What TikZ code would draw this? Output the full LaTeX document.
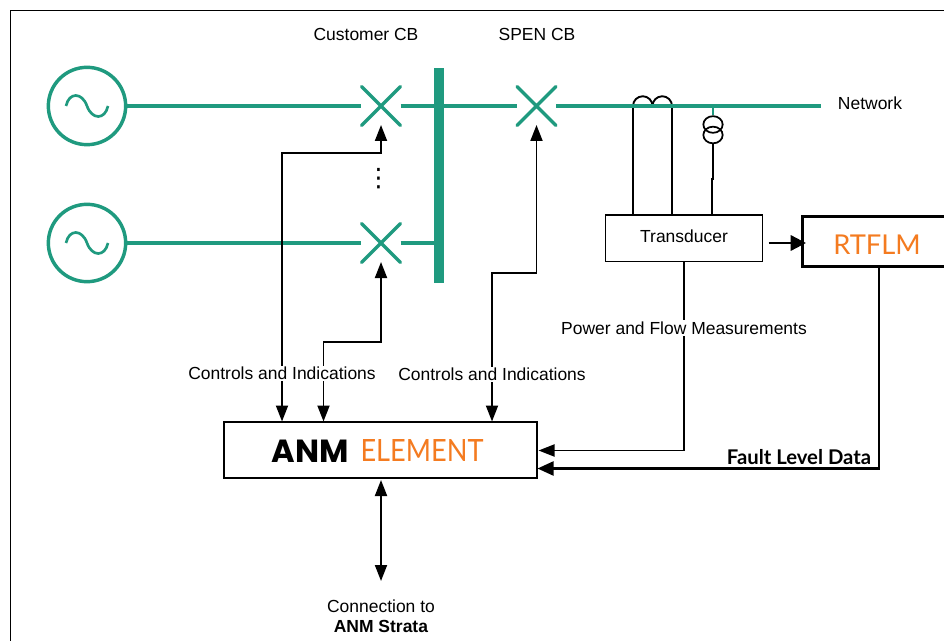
\documentclass[tikz,border=0pt]{standalone}
\usepackage{fontspec}
\setmainfont{Liberation Sans}
\newfontfamily\logofont{Poppins}
\newfontfamily\rtfont{Lato}
\newfontfamily\elemfont[FakeStretch=0.885]{Lato}
\newfontfamily\dotfont{DejaVu Sans}
\usetikzlibrary{arrows.meta,calc,shapes.geometric}
\definecolor{busgreen}{HTML}{1F9A7F}
\definecolor{logoorange}{HTML}{F47B20}
\tikzset{
  x=0.75pt,y=-0.75pt,
  bus/.style={draw=busgreen,line width=2.8pt},
  gen/.style={circle,draw=busgreen,line width=2.6pt,minimum size=58pt,inner sep=0pt},
  brk/.style={minimum size=29pt,inner sep=0pt},
  box/.style={draw=black,line width=1.4pt,fill=white,inner sep=0pt,outer sep=0pt},
  wire/.style={draw=black,line width=1.4pt},
  thickwire/.style={draw=black,line width=1.7pt},
  arrow/.style={wire,-{Triangle[length=12pt,width=9pt]}},
  biarrow/.style={wire,{Triangle[length=12pt,width=9pt]}-{Triangle[length=12pt,width=9pt]}},
  lab/.style={font=\fontsize{13.1}{15}\selectfont,inner sep=0pt,align=center},
  gapped/.style={lab,fill=white,inner ysep=1pt},
  vt/.style={ellipse,draw=black,line width=1.3pt,minimum width=14.5pt,minimum height=12.5pt,inner sep=0pt},
}
\newcommand{\sinewave}[1]{\draw[busgreen,line width=2pt] ($(#1)+(-21,0)$) .. controls +(3,-14) and +(-5,-14) .. ($(#1)+(0,0)$) .. controls +(5,14) and +(-3,14) .. ($(#1)+(21,0)$);}
\begin{document}
\begin{tikzpicture}
\useasboundingbox (0,0) rectangle (944,641);
\fill[white] (0,0) rectangle (944,641);
\coordinate (frameA) at (10,641);
\coordinate (frameB) at (10,10.5);
\coordinate (frameC) at (944,10.5);
\draw[black,line width=0.7pt] (frameA) -- (frameB) -- (frameC);

% boxes
\node[box,anchor=north west,line width=1.1pt,minimum width=117.75pt,minimum height=35pt] (tr) at (605.5,215) {};
\node[lab] (trt) at (684,236) {Transducer};
\node[box,line width=1.9pt,anchor=north west,minimum width=127pt,minimum height=37.5pt] (rt) at (802.5,216.5) {};
\node[font=\rtfont\fontsize{20.5}{24}\selectfont,text=logoorange,inner sep=0pt] (rtt) at (877,245) {RTFLM};
\node[box,anchor=north west,minimum width=235pt,minimum height=42pt] (anm) at (224,422) {};
\node[font=\logofont\bfseries\fontsize{24}{26}\selectfont,text=black,inner sep=0pt] (anmt) at (310,451) {ANM};
\node[font=\elemfont\fontsize{23}{26}\selectfont,text=logoorange,inner sep=0pt] (elem) at (422,451) {ELEMENT};

% CT and VT
\coordinate (ct1) at (633,106);
\coordinate (ctm) at (652.5,106);
\coordinate (ct2) at (672,106);
\draw[wire] (ct1) arc[start angle=180,end angle=360,x radius=9.75,y radius=9.75];
\draw[wire] (ctm) arc[start angle=180,end angle=360,x radius=9.75,y radius=9.75];
\draw[wire] (ct1) -- (ct1 |- tr.north);
\draw[wire] (ct2) -- (ct2 |- tr.north);
\coordinate (vtn) at (713,106);
\node[vt] (vta) at (713,124.5) {};
\node[vt] (vtb) at (713,135) {};
\draw[draw=busgreen,line width=0.9pt] (vtn) -- (vta);
\coordinate (vtk) at (713,179);
\coordinate (vtl) at (712,179);
\draw[wire] (vtb) -- (vtk) -- (vtl) -- (vtl |- tr.north);

% generators and breakers
\node[gen] (g1) at (87,106) {};
\node[gen] (g2) at (87,243) {};
\sinewave{g1}
\sinewave{g2}
\node[brk] (cb1) at (381,106) {};
\node[brk] (cb2) at (381,243) {};
\node[brk] (cb3) at (536.5,106) {};
\coordinate (bustop) at (439.3,68.5);
\coordinate (busbot) at (439.3,282.7);
\coordinate (bus1) at (439.3,106);
\coordinate (bus2) at (439.3,243);
\coordinate (netend) at (821,106);
\draw[bus] (g1) -- (cb1);
\draw[bus] (g2) -- (cb2);
\draw[bus] (cb1) -- (bus1) -- (cb3);
\draw[bus] (cb2) -- (bus2);
\draw[bus] (cb3) -- (netend);
\draw[draw=busgreen,line width=7.5pt] (bustop) -- (busbot);
\foreach \n in {cb1,cb2,cb3}{\draw[busgreen,line width=2.6pt,line cap=round] ($(\n)+(-19.5,-19.5)$)--($(\n)+(19.5,19.5)$) ($(\n)+(19.5,-19.5)$)--($(\n)+(-19.5,19.5)$);}

% control wiring
\coordinate (w1) at (282,153);
\coordinate (w2) at (323.5,342);
\coordinate (w3) at (492,273);
\coordinate (a1) at (282,421.5);
\coordinate (a2) at (323.5,421.5);
\coordinate (a3) at (492,421.5);
\draw[biarrow] (a1) -- (w1) -| ($(cb1)+(0,19)$);
\draw[biarrow] (a2) -- (w2) -| ($(cb2)+(0,19)$);
\draw[biarrow] (a3) -- (w3) -| ($(cb3)+(0,19)$);

% measurement wiring
\coordinate (p1) at (538.5,450.5);
\coordinate (p2) at (537.5,468.5);
\coordinate (rts) at (879.3,267);
\draw[arrow] (tr.south) |- (p1);
\draw[thickwire,-{Triangle[length=12pt,width=10.5pt]}] (rts) |- (p2);
\coordinate (ta) at (768.5,243);
\coordinate (tb) at (806,243);
\draw[thickwire,-{Triangle[length=11.5pt,width=11.5pt]}] (ta) -- (tb);
\coordinate (strata) at (381,581);
\coordinate (anmb) at (381,480);
\draw[biarrow] (anmb) -- (strata);

% labels
\node[lab] (l1) at (366,34) {Customer CB};
\node[lab] (l2) at (537,34) {SPEN CB};
\node[lab] (l3) at (870,103.5) {Network};
\node[font=\dotfont\fontsize{19}{22}\selectfont,inner sep=0pt] (dots) at (378.5,179) {⋮};
\node[gapped] (l4) at (684,328) {Power and Flow Measurements};
\node[gapped] (l5) at (282,373.5) {Controls and Indications};
\node[gapped] (l6) at (492,374.5) {Controls and Indications};
\node[font=\rtfont\bfseries\fontsize{15.2}{17}\selectfont,inner sep=0pt] (l7) at (799,457) {Fault Level Data};
\node[lab] (l8) at (381,616) {Connection to\\\textbf{ANM Strata}};
\end{tikzpicture}
\end{document}
